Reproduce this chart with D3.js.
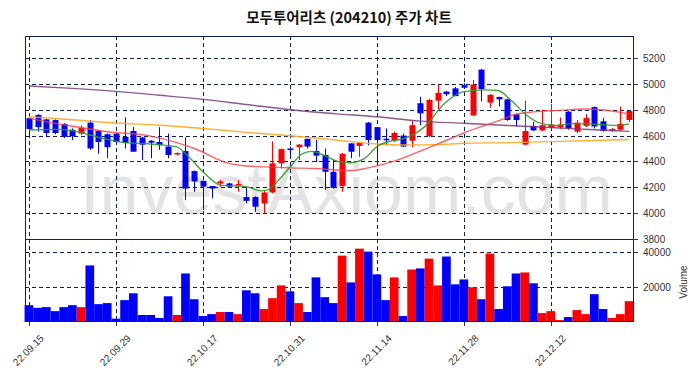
<!DOCTYPE html>
<html>
<head>
<meta charset="utf-8">
<script src="https://cdn.jsdelivr.net/npm/d3@7"></script>
<style>
  body { margin: 0; background: #fff; }
  svg { display: block; }
</style>
</head>
<body>
<svg id="chart" width="698" height="378"></svg>
<script>
// trading days shown on the chart
const dates = ["22.09.15","22.09.16","22.09.19","22.09.20","22.09.21","22.09.22","22.09.23","22.09.26","22.09.27","22.09.28",
  "22.09.29","22.09.30","22.10.04","22.10.05","22.10.06","22.10.07","22.10.11","22.10.12","22.10.13","22.10.14",
  "22.10.17","22.10.18","22.10.19","22.10.20","22.10.21","22.10.24","22.10.25","22.10.26","22.10.27","22.10.28",
  "22.10.31","22.11.01","22.11.02","22.11.03","22.11.04","22.11.07","22.11.08","22.11.09","22.11.10","22.11.11",
  "22.11.14","22.11.15","22.11.16","22.11.17","22.11.18","22.11.21","22.11.22","22.11.23","22.11.24","22.11.25",
  "22.11.28","22.11.29","22.11.30","22.12.01","22.12.02","22.12.05","22.12.06","22.12.07","22.12.08","22.12.09",
  "22.12.12","22.12.13","22.12.14","22.12.15","22.12.16","22.12.19","22.12.20","22.12.21","22.12.22","22.12.23"];

const open  = [4735,4760,4725,4720,4690,4645,4615,4700,4635,4610, 4615,4590,4635,4585,4560,4550,4515,4460,4480,4325,
               4250,4210,4230,4230,4215,4125,4125,4075,4160,4385, 4500,4510,4575,4480,4450,4320,4210,4540,4520,4700,
               4665,4575,4560,4600,4560,4850,4595,4870,4940,4965, 4990,4755,5110,4855,4898,4880,4765,4530,4675,4640,
               4660,4665,4785,4630,4675,4820,4710,4635,4645,4720];
const high  = [4740,4765,4730,4725,4695,4655,4680,4720,4640,4615, 4620,4740,4665,4590,4565,4665,4615,4470,4585,4330,
               4250,4210,4255,4235,4255,4200,4130,4175,4555,4500, 4515,4535,4575,4565,4500,4410,4465,4540,4550,4705,
               4665,4655,4630,4615,4715,4900,4885,4995,4945,4975, 5005,5030,5115,4920,4900,4885,4770,4870,4705,4800,
               4845,4740,4790,4720,4765,4825,4735,4660,4825,4795];
const low   = [4580,4630,4590,4610,4580,4565,4605,4490,4460,4425, 4540,4500,4475,4410,4425,4490,4425,4445,4100,4165,
               4025,4115,4205,4200,4165,4075,4010,4000,4155,4345, 4425,4410,4500,4395,4180,4190,4165,4425,4435,4525,
               4390,4525,4550,4510,4510,4680,4590,4805,4905,4905, 4965,4750,4865,4815,4825,4715,4670,4525,4635,4635,
               4650,4650,4645,4620,4665,4655,4630,4630,4635,4705];
const close = [4650,4665,4620,4620,4590,4595,4660,4500,4550,4510, 4550,4545,4475,4530,4545,4525,4450,4465,4190,4245,
               4205,4190,4245,4205,4225,4095,4050,4160,4385,4495, 4495,4530,4515,4445,4320,4195,4460,4475,4545,4565,
               4565,4565,4620,4515,4680,4772,4875,4930,4920,4905, 4970,4995,4960,4915,4880,4720,4720,4635,4640,4680,
               4685,4685,4655,4700,4735,4670,4635,4650,4690,4790];
const volume = [9600,8100,8500,6200,8500,9600,8500,32300,10200,10800, 1900,12500,16400,4000,4000,2300,14700,4000,27700,13000,
                3400,4500,5700,5700,4500,18100,16400,7400,13600,20900, 17500,10800,5700,25500,14200,10800,37900,22600,41900,40200,
                27200,12500,25500,3400,30000,30600,36200,20900,37400,21500, 24300,19800,13000,39100,7400,20400,27700,28300,22100,5100,
                6200,1100,2800,6800,4500,15900,7400,2300,4500,11900];

// moving averages: [day index, value]
const ma5 = [[0,4643],[3,4648],[5,4638],[7,4604],[9,4570],[11,4545],[14,4535],[17,4512],[18.3,4440],[20,4320],
             [22,4217],[25,4204],[26.6,4173],[27.5,4180],[28.7,4256],[30.2,4370],[31.3,4455],[32.5,4478],[34,4445],
             [35.6,4398],[37,4390],[38.6,4423],[40,4514],[41.5,4555],[43.2,4578],[45.5,4669],[47.8,4850],[50,4940],
             [52.4,4953],[53.9,4948],[55.4,4875],[57.2,4759],[58.6,4700],[60.5,4678],[62.4,4692],[64.3,4690],
             [66.2,4683],[67.7,4678],[69,4690]];
const ma20 = [[0,4733],[5,4672],[9,4630],[14,4596],[17,4545],[19,4500],[23,4385],[25,4365],[27,4358],[30,4350],
              [33,4345],[37,4328],[39,4350],[42,4402],[45,4480],[47,4535],[50,4620],[54,4715],[56,4765],[58,4783],
              [61,4795],[64,4805],[67,4790],[69,4768]];
const ma60 = [[0,4746],[5,4722],[10,4697],[15,4680],[20,4655],[25,4625],[30,4598],[35,4568],[40,4535],[43,4527],
              [47,4530],[50,4540],[55,4545],[60,4553],[65,4562],[69,4570]];
const ma120 = [[0,4983],[5,4965],[10,4942],[15,4912],[20,4880],[25,4840],[30,4800],[35,4770],[40,4745],[45,4712],
               [50,4695],[55,4678],[60,4662],[65,4645],[69,4632]];

const priceTicks = [3800,4000,4200,4400,4600,4800,5000,5200];
const volTicks = [20000,40000];
const labelDates = ["22.09.15","22.09.29","22.10.17","22.10.31","22.11.14","22.11.28","22.12.12"];

const svg = d3.select("#chart");
const left = 25, right = 633, pTop = 36, pBottom = 239, vBottom = 322;
const navy = "#0b1f5e";
const upColor = "#ff0000", downColor = "#0000ff";

const x = d3.scaleLinear().domain([-0.45, dates.length - 0.55]).range([left, right]);
const yP = d3.scaleLinear().domain([3800, 5370]).range([pBottom, pTop]);
const yV = d3.scaleLinear().domain([0, 47400]).range([vBottom, pBottom]);
const step = x(1) - x(0);

// title
svg.append("text")
  .attr("x", 349).attr("y", 23)
  .attr("text-anchor", "middle")
  .attr("font-family", "'Noto Sans CJK KR', sans-serif")
  .attr("font-weight", "bold")
  .attr("font-size", 14.5)
  .attr("fill", "#111")
  .text("모두투어리츠 (204210) 주가 차트");

// watermark
svg.append("text")
  .attr("x", 80).attr("y", 214)
  .attr("font-family", "'Liberation Sans', Arial, sans-serif")
  .attr("font-size", 70)
  .attr("fill", "#e3e3e3")
  .text("InvestAxiom.com");

const grid = svg.append("g")
  .attr("stroke", navy).attr("stroke-width", 1).attr("stroke-dasharray", "4,3").attr("fill", "none");

// horizontal grid
grid.selectAll("line.hp").data(priceTicks.filter(d => d > 3800)).join("line")
  .attr("x1", left).attr("x2", right)
  .attr("y1", d => Math.round(yP(d)) + 0.5).attr("y2", d => Math.round(yP(d)) + 0.5);
grid.selectAll("line.hv").data(volTicks).join("line")
  .attr("x1", left).attr("x2", right)
  .attr("y1", d => Math.round(yV(d)) + 0.5).attr("y2", d => Math.round(yV(d)) + 0.5);

// vertical grid on label dates
const labelIdx = labelDates.map(d => dates.indexOf(d));
grid.selectAll("line.v").data(labelIdx).join("line")
  .attr("x1", d => Math.round(x(d)) + 0.5).attr("x2", d => Math.round(x(d)) + 0.5)
  .attr("y1", pTop).attr("y2", vBottom);

// volume bars
svg.append("g").selectAll("rect").data(volume).join("rect")
  .attr("x", (d, i) => x(i) - step / 2)
  .attr("width", step)
  .attr("y", d => yV(d))
  .attr("height", d => vBottom - yV(d))
  .attr("fill", (d, i) => close[i] >= open[i] ? upColor : downColor);

// moving averages
const line = d3.line().x(d => x(d[0])).y(d => yP(d[1])).curve(d3.curveMonotoneX);
const maSets = [
  { data: ma120, color: "#7a3a78", op: 0.85 },
  { data: ma60, color: "#ffa620", op: 0.9 },
  { data: ma20, color: "#ff3b3b", op: 0.8 },
  { data: ma5, color: "#2e9a2e", op: 0.9 }
];

// candles
const cg = svg.append("g");
const idx = d3.range(dates.length);
cg.selectAll("line").data(idx).join("line")
  .attr("x1", i => Math.round(x(i)) + 0.5).attr("x2", i => Math.round(x(i)) + 0.5)
  .attr("y1", i => yP(high[i])).attr("y2", i => yP(low[i]))
  .attr("stroke", i => close[i] >= open[i] ? upColor : downColor)
  .attr("stroke-width", 1);
cg.selectAll("rect").data(idx).join("rect")
  .attr("x", i => Math.round(x(i)) + 0.5 - 3)
  .attr("width", 6)
  .attr("y", i => yP(Math.max(open[i], close[i])))
  .attr("height", i => Math.max(1.5, Math.abs(yP(open[i]) - yP(close[i]))))
  .attr("fill", i => close[i] >= open[i] ? upColor : downColor);

maSets.forEach(m => {
  svg.append("path")
    .datum(m.data)
    .attr("d", line)
    .attr("fill", "none")
    .attr("stroke", m.color)
    .attr("stroke-opacity", m.op)
    .attr("stroke-width", 1.4);
});

// panel frames
svg.append("rect").attr("x", left + 0.5).attr("y", pTop + 0.5)
  .attr("width", right - left).attr("height", pBottom - pTop)
  .attr("fill", "none").attr("stroke", navy);
svg.append("rect").attr("x", left + 0.5).attr("y", pBottom + 0.5)
  .attr("width", right - left).attr("height", vBottom - pBottom - 1)
  .attr("fill", "none").attr("stroke", navy);

// right axes
const axisFont = "'Liberation Sans', Arial, sans-serif";
const pAxis = svg.append("g");
priceTicks.forEach(t => {
  const yy = Math.round(yP(t)) + 0.5;
  pAxis.append("line").attr("x1", right).attr("x2", right + 5).attr("y1", yy).attr("y2", yy)
    .attr("stroke", "#333");
  pAxis.append("text").attr("x", right + 10).attr("y", yy + 3.5)
    .attr("font-family", axisFont).attr("font-size", 10).attr("fill", "#333").text(t);
});
volTicks.forEach(t => {
  const yy = Math.round(yV(t)) + 0.5;
  pAxis.append("line").attr("x1", right).attr("x2", right + 5).attr("y1", yy).attr("y2", yy)
    .attr("stroke", "#333");
  pAxis.append("text").attr("x", right + 10).attr("y", yy + 3.5)
    .attr("font-family", axisFont).attr("font-size", 10).attr("fill", "#333").text(t);
});
svg.append("text")
  .attr("transform", "translate(687,282) rotate(-90)")
  .attr("text-anchor", "middle")
  .attr("font-family", axisFont).attr("font-size", 10).attr("fill", "#333")
  .text("Volume");

// bottom date axis
const xg = svg.append("g");
labelIdx.forEach((i, k) => {
  const xx = Math.round(x(i)) + 0.5;
  xg.append("line").attr("x1", xx).attr("x2", xx).attr("y1", vBottom).attr("y2", vBottom + 4)
    .attr("stroke", "#333");
  xg.append("text")
    .attr("transform", `translate(${xx + 15},${vBottom + 17}) rotate(-45)`)
    .attr("text-anchor", "end")
    .attr("font-family", axisFont).attr("font-size", 10).attr("fill", "#333")
    .text(labelDates[k]);
});
</script>
</body>
</html>
